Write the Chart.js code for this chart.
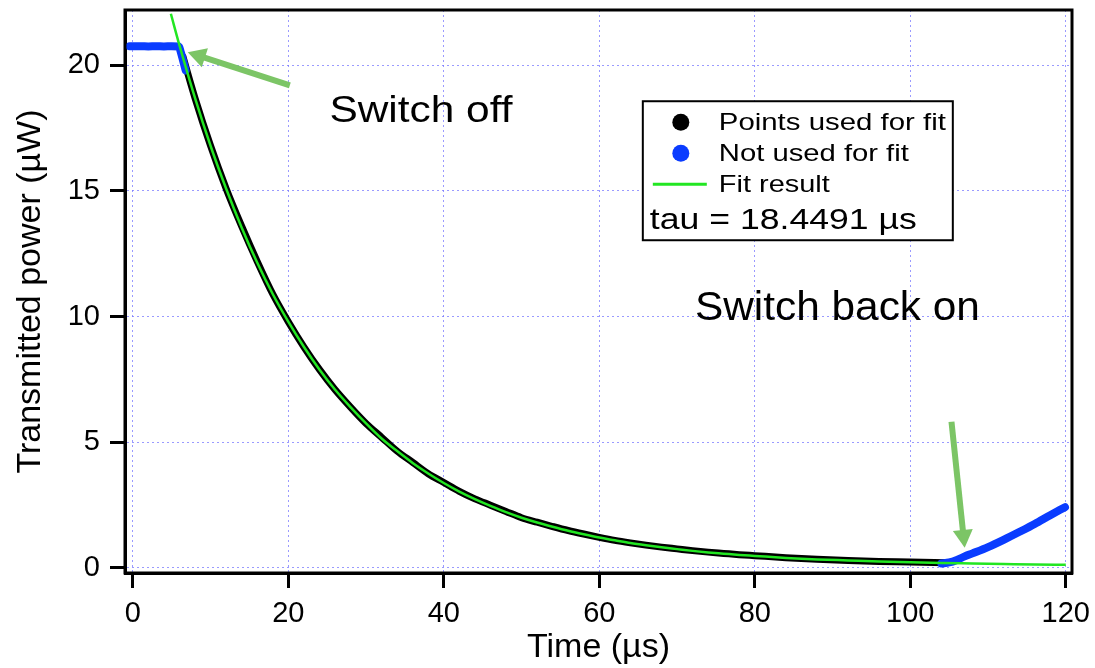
<!DOCTYPE html>
<html>
<head>
<meta charset="utf-8">
<script src="https://cdn.jsdelivr.net/npm/chart.js@4.4.1/dist/chart.umd.min.js"></script>
<style>
    body { margin: 0; background: #fff; }
    #wrap { width: 1095px; height: 668px; }
</style>
</head>
<body>
<div id="wrap"><canvas id="decayChart"></canvas></div>
<script>
// Values (time in µs, power in µW)
const fitTime = [4.9, 6, 8, 10, 12, 14, 16, 18, 20,
    22, 24, 26, 28, 30, 32, 34, 36, 38, 40,
    42, 44, 46, 48, 50, 52, 54, 56, 58, 60,
    62, 64, 66, 68, 70, 72, 74, 76, 78, 80,
    84, 88, 92, 96, 100, 104, 108, 112, 116, 120];
const fitPower = [22.05, 20.8, 18.7, 16.8, 15.1, 13.55, 12.15, 10.9, 9.8,
    8.8, 7.9, 7.1, 6.4, 5.75, 5.15, 4.65, 4.18, 3.76, 3.38,
    3.04, 2.74, 2.47, 2.22, 2.0, 1.81, 1.64, 1.48, 1.34, 1.21,
    1.1, 0.99, 0.9, 0.82, 0.75, 0.68, 0.62, 0.57, 0.52, 0.48,
    0.4, 0.34, 0.3, 0.26, 0.23, 0.2, 0.18, 0.16, 0.14, 0.13];

const usedTime = [6.4, 8, 10, 12, 14, 16, 18, 20,
    22, 24, 26, 28, 30, 32, 34, 36, 38, 40,
    42, 44, 46, 48, 50, 52, 54, 56, 58, 60,
    62, 64, 66, 68, 70, 72, 74, 76, 78, 80,
    84, 88, 92, 96, 100, 104.5];
const usedPower = [20.4, 18.7, 16.8, 15.1, 13.6, 12.2, 10.9, 9.8,
    8.8, 7.9, 7.1, 6.4, 5.75, 5.2, 4.65, 4.2, 3.75, 3.4,
    3.05, 2.75, 2.5, 2.25, 2.0, 1.82, 1.65, 1.49, 1.35, 1.22,
    1.1, 1.0, 0.91, 0.83, 0.76, 0.69, 0.63, 0.58, 0.53, 0.49,
    0.41, 0.35, 0.3, 0.26, 0.24, 0.21];

// points not used for the fit: before switch off and after switch back on
const offTime = [-0.4, 1, 2, 3, 4, 5, 5.9, 6.2, 6.5, 6.8];
const offPower = [20.76, 20.76, 20.75, 20.76, 20.75, 20.76, 20.75, 20.5, 20.15, 19.8];
const onTime = [104, 105, 106, 107, 108, 110, 112, 114, 116, 118, 119.9];
const onPower = [0.18, 0.22, 0.32, 0.46, 0.58, 0.83, 1.12, 1.43, 1.75, 2.1, 2.42];

const xTicks = [0, 20, 40, 60, 80, 100, 120];
const yTicks = [0, 5, 10, 15, 20];

const FONT = "'Liberation Sans', Arial, Helvetica, sans-serif";
const ARROW = '#7cc566';

const toPoints = (xs, ys) => xs.map((v, i) => ({ x: v, y: ys[i] }));

// draw text squeezed/stretched to a given width (the original fonts run wide)
function wideText(ctx, str, x, y, size, width) {
    ctx.save();
    ctx.font = size + 'px ' + FONT;
    const w = ctx.measureText(str).width;
    ctx.translate(x, y);
    ctx.scale(width / w, 1);
    ctx.fillText(str, 0, 0);
    ctx.restore();
}

function arrow(ctx, x1, y1, x2, y2) {
    const ang = Math.atan2(y2 - y1, x2 - x1);
    const head = 18, half = 10;
    const bx = x2 - head * Math.cos(ang), by = y2 - head * Math.sin(ang);
    ctx.save();
    ctx.strokeStyle = ARROW;
    ctx.fillStyle = ARROW;
    ctx.lineWidth = 6;
    ctx.beginPath();
    ctx.moveTo(x1, y1);
    ctx.lineTo(bx + 2 * Math.cos(ang), by + 2 * Math.sin(ang));
    ctx.stroke();
    ctx.beginPath();
    ctx.moveTo(x2, y2);
    ctx.lineTo(bx + half * Math.sin(ang), by - half * Math.cos(ang));
    ctx.lineTo(bx - half * Math.sin(ang), by + half * Math.cos(ang));
    ctx.closePath();
    ctx.fill();
    ctx.restore();
}

// frame, arrows, notes and the boxed legend
const annotations = {
    id: 'annotations',
    afterDatasetsDraw(chart) {
        const { ctx, chartArea, scales: { x, y } } = chart;
        const px = (t, p) => [x.getPixelForValue(t), y.getPixelForValue(p)];

        ctx.save();
        ctx.strokeStyle = '#000';
        ctx.lineWidth = 3;
        ctx.strokeRect(chartArea.left, chartArea.top, chartArea.right - chartArea.left, chartArea.bottom - chartArea.top);
        ctx.restore();

        arrow(ctx, ...px(20.2, 19.2), ...px(7.07, 20.52));
        arrow(ctx, ...px(105.3, 5.82), ...px(107.0, 0.80));

        ctx.save();
        ctx.fillStyle = '#000';
        ctx.textBaseline = 'alphabetic';
        let [tx, ty] = px(25.3, 17.73);
        wideText(ctx, 'Switch off', tx, ty, 37, 183);
        [tx, ty] = px(72.3, 9.88);
        wideText(ctx, 'Switch back on', tx, ty, 40, 285);

        // legend box
        const [lx, ly] = px(65.6, 18.57);
        ctx.fillStyle = '#fff';
        ctx.fillRect(lx, ly, 310, 139);
        ctx.strokeStyle = '#000';
        ctx.lineWidth = 2;
        ctx.strokeRect(lx, ly, 310, 139);

        ctx.fillStyle = '#000';
        ctx.beginPath();
        ctx.arc(lx + 38, ly + 21, 8.5, 0, Math.PI * 2);
        ctx.fill();
        ctx.fillStyle = '#0a3cff';
        ctx.beginPath();
        ctx.arc(lx + 38, ly + 52, 8.5, 0, Math.PI * 2);
        ctx.fill();
        ctx.strokeStyle = '#22e622';
        ctx.lineWidth = 3;
        ctx.beginPath();
        ctx.moveTo(lx + 10, ly + 83);
        ctx.lineTo(lx + 64, ly + 83);
        ctx.stroke();

        ctx.fillStyle = '#000';
        wideText(ctx, 'Points used for fit', lx + 76, ly + 29, 24, 227);
        wideText(ctx, 'Not used for fit', lx + 76, ly + 60, 24, 190);
        wideText(ctx, 'Fit result', lx + 76, ly + 91, 24, 111);
        wideText(ctx, 'tau = 18.4491 µs', lx + 7, ly + 128, 30, 267);
        ctx.restore();
    }
};

const ctx = document.getElementById('decayChart').getContext('2d');
const decayChart = new Chart(ctx, {
    type: 'line',
    data: {
        datasets: [
            {
                label: 'Fit result',
                data: toPoints(fitTime, fitPower),
                borderColor: '#22e622',
                borderWidth: 2.5,
                pointRadius: 0,
                cubicInterpolationMode: 'monotone',
                order: 0
            },
            {
                label: 'Not used for fit',
                data: toPoints(offTime, offPower),
                borderColor: '#0a3cff',
                borderWidth: 8,
                borderCapStyle: 'round',
                pointRadius: 0,
                cubicInterpolationMode: 'monotone',
                order: 1
            },
            {
                label: 'Not used for fit',
                data: toPoints(onTime, onPower),
                borderColor: '#0a3cff',
                borderWidth: 8,
                borderCapStyle: 'round',
                pointRadius: 0,
                cubicInterpolationMode: 'monotone',
                order: 1
            },
            {
                label: 'Points used for fit',
                data: toPoints(usedTime, usedPower),
                borderColor: '#000',
                borderWidth: 7,
                pointRadius: 0,
                cubicInterpolationMode: 'monotone',
                order: 2
            }
        ]
    },
    options: {
        responsive: true,
        maintainAspectRatio: false,
        animation: false,
        layout: { padding: { top: 10, right: 23, left: 0, bottom: 0 } },
        scales: {
            x: {
                type: 'linear',
                min: -1.0,
                max: 120.8,
                afterBuildTicks: s => { s.ticks = xTicks.map(v => ({ value: v })); },
                afterFit: s => { s.height = 95; s.paddingLeft = 0; s.paddingRight = 0; },
                ticks: { padding: 9, color: '#000', font: { family: FONT, size: 29 } },
                grid: { color: 'rgba(120,120,255,0.75)', lineWidth: 1, tickColor: '#000', tickWidth: 3, tickLength: 15 },
                border: { color: '#000', width: 3, dash: [2, 3] },
                title: { display: true, text: 'Time (µs)', color: '#000', font: { family: FONT, size: 34 }, padding: { top: 0, bottom: 0 } }
            },
            y: {
                type: 'linear',
                min: -0.2,
                max: 22.2,
                afterBuildTicks: s => { s.ticks = yTicks.map(v => ({ value: v })); },
                afterFit: s => { s.width = 125; s.paddingTop = 0; s.paddingBottom = 0; },
                ticks: { padding: 10, color: '#000', font: { family: FONT, size: 29 } },
                grid: { color: 'rgba(120,120,255,0.75)', lineWidth: 1, tickColor: '#000', tickWidth: 3, tickLength: 15 },
                border: { color: '#000', width: 3, dash: [2, 3] },
                title: { display: true, text: 'Transmitted power (µW)', color: '#000', font: { family: FONT, size: 34 }, padding: { top: 10, bottom: 0 } }
            }
        },
        plugins: {
            legend: { display: false },
            tooltip: { enabled: false }
        }
    },
    plugins: [annotations]
});
</script>
</body>
</html>
